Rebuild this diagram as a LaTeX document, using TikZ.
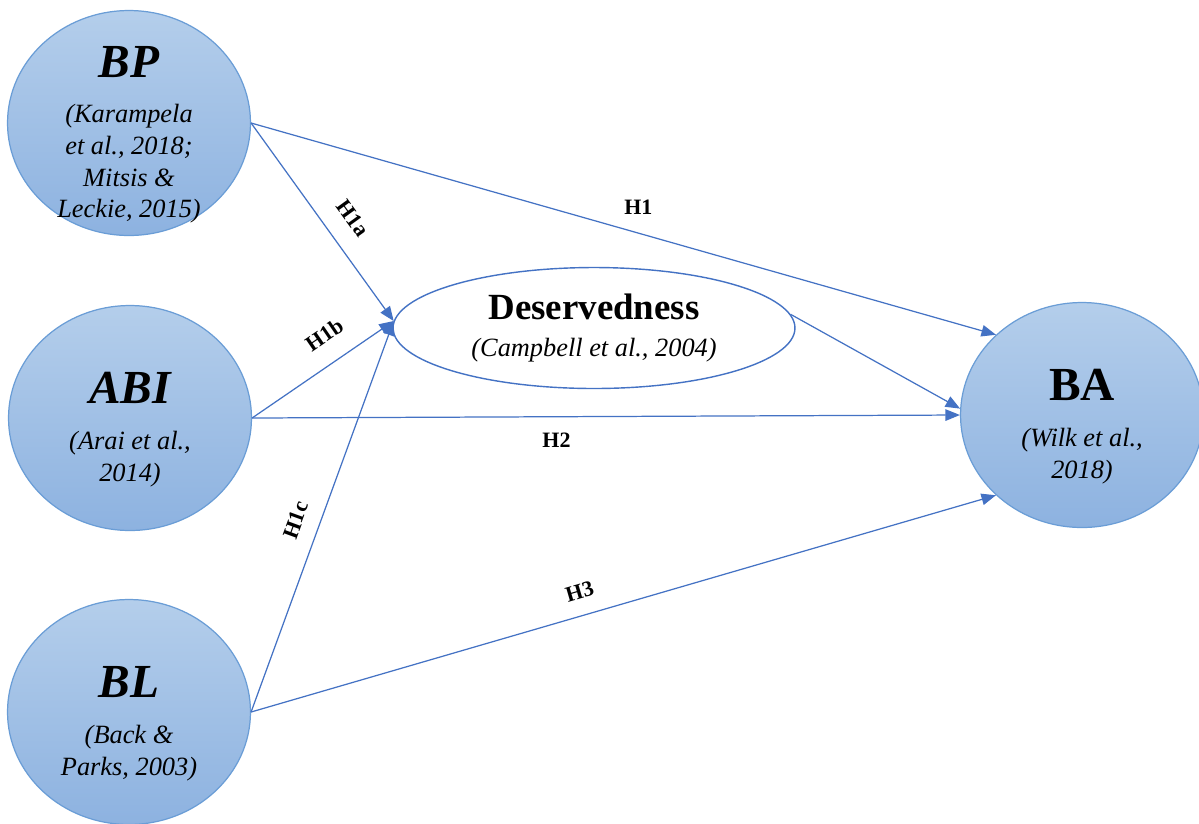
\documentclass[tikz,border=0pt]{standalone}
\usepackage{fontspec}
\setmainfont{Liberation Serif}
\usetikzlibrary{arrows.meta,shapes.geometric}
\definecolor{pathBlue}{HTML}{4472C4}
\definecolor{circTop}{HTML}{B4CEEB}
\definecolor{circBot}{HTML}{8DB2E0}
\definecolor{circLine}{HTML}{6A9DD6}
\newcommand{\cnstname}{\fontsize{27}{30}\selectfont\bfseries\itshape\rule{0pt}{25pt}}
\newcommand{\cnstcite}{\fontsize{15}{18}\selectfont\itshape}
\tikzset{
	construct/.style={ellipse, draw=circLine, line width=0.7pt, top color=circTop, bottom color=circBot,
		minimum width=4.86cm, minimum height=4.5cm, inner sep=0pt},
	cnsttext/.style={align=center, font=\cnstcite, inner sep=0pt, yshift=-3pt},
	mediator/.style={ellipse, draw=pathBlue, line width=0.8pt, fill=white,
		minimum width=8.04cm, minimum height=2.42cm, inner sep=0pt, align=center, font=\cnstcite},
	hyparrow/.style={draw=pathBlue, line width=0.7pt, -{Triangle[length=2.9mm,width=2.3mm]}},
	hyplabel/.style={font=\bfseries\fontsize{12.5}{14}\selectfont, inner sep=1pt}
}

\begin{document}
\begin{tikzpicture}[x=0.02cm, y=-0.02cm]
	\clip (0,0) rectangle (1199,823);
	\fill[white] (0,0) rectangle (1199,823);

	\node[construct] (BP) at (129,123) {};
	\node[construct] (ABI) at (130,418) {};
	\node[construct] (BL) at (129,712) {};
	\node[construct] (BA) at (1082,415) {};
	\node[cnsttext] (BPtext) at (BP) {{\cnstname BP}\\[8pt](Karampela\\et al., 2018;\\Mitsis \&\\Leckie, 2015)};
	\node[cnsttext] (ABItext) at (ABI) {{\cnstname ABI}\\[8pt](Arai et al.,\\2014)};
	\node[cnsttext] (BLtext) at (BL) {{\cnstname BL}\\[8pt](Back \&\\Parks, 2003)};
	\node[cnsttext] (BAtext) at (BA) {{\cnstname\upshape BA}\\[8pt](Wilk et al.,\\2018)};
	\node[mediator] (DES) at (594,328) {{\fontsize{21}{24}\selectfont\bfseries\upshape Deservedness}\\[3pt](Campbell et al., 2004)};

	\draw[hyparrow] (BP.east) -- node[hyplabel, pos=0.52, above=9pt] {H1} (BA.137);
	\draw[hyparrow] (BP.east) -- node[hyplabel, pos=0.56, sloped, above=10pt] {H1a} (DES.178);
	\draw[hyparrow] (ABI.east) -- node[hyplabel, pos=0.62, sloped, above=10pt] {H1b} (DES.178);
	\draw[hyparrow] (ABI.east) -- node[hyplabel, pos=0.43, below=8pt] {H2} (BA.west);
	\draw[hyparrow] (BL.east) -- node[hyplabel, pos=0.47, sloped, above=8pt] {H1c} (DES.178);
	\draw[hyparrow] (BL.east) -- node[hyplabel, pos=0.45, sloped, above=8pt] {H3} (BA.223);
	\draw[hyparrow] (DES.4) -- (BA.177);
\end{tikzpicture}
\end{document}
